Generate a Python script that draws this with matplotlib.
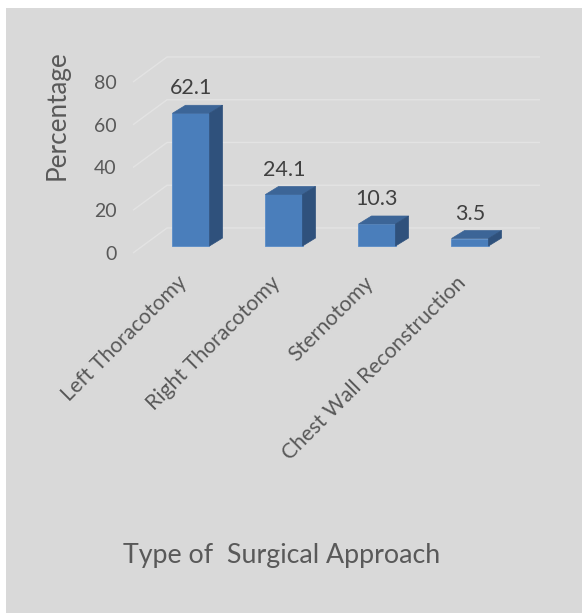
import matplotlib
matplotlib.use("Agg")
import matplotlib.pyplot as plt
from matplotlib.patches import Rectangle, Polygon

plt.rcParams['font.family'] = ['Lato', 'DejaVu Sans']

# ---- data ----
categories = ["Left Thoracotomy", "Right Thoracotomy", "Sternotomy", "Chest Wall Reconstruction"]
values = [62.1, 24.1, 10.3, 3.5]
yticks = [0, 20, 40, 60, 80]
xlabel = "Type of  Surgical Approach"
ylabel = "Percentage"

# ---- style ----
BG = "#d9d9d9"
FRONT = "#4a7ebb"
TOP = "#3c6597"
SIDE = "#2f517c"
GRID = "#e3e3e3"
TXT = "#595959"
LBL = "#404040"

W, H = 583, 613
fig = plt.figure(figsize=(W / 100, H / 100), dpi=100)
fig.patch.set_facecolor("white")
fig.patches.append(Rectangle((6 / W, 0), 576 / W, (H - 8) / H, transform=fig.transFigure,
                             facecolor=BG, edgecolor="none", zorder=-10))

ax = fig.add_axes([133 / W, (H - 253) / H, (506 - 133) / W, (253 - 82) / H])
ax.patch.set_visible(False)
for s in ax.spines.values():
    s.set_visible(False)
xmin, xmax = -0.5215, 3.489
ax.set_xlim(xmin, xmax)
ax.set_ylim(0, 80)

# 3D offsets (data units)
DX, DY = 0.366, 11.7      # full depth of the box (front -> back wall)
bdx, bdy = 0.102, 3.27    # bar front-face plane relative to front plane
tdx, tdy = 0.14, 3.74     # bar depth
w = 0.398

# back wall + side wall gridlines
for v in yticks:
    ax.plot([xmin, xmin + DX, xmax + DX], [v, v + DY, v + DY], color=GRID, lw=1.0,
            clip_on=False, zorder=0, solid_capstyle="butt")

xs = [i + bdx for i in range(len(values))]
bars = ax.bar(xs, values, width=w, bottom=bdy, color=FRONT, edgecolor="#5a8cc8",
              linewidth=0.6, zorder=3, clip_on=False)
for b, v in zip(bars, values):
    x0 = b.get_x()
    x1 = x0 + b.get_width()
    y0 = b.get_y()
    y1 = y0 + b.get_height()
    ax.add_patch(Polygon([(x0, y1), (x0 + tdx, y1 + tdy), (x1 + tdx, y1 + tdy), (x1, y1)],
                         closed=True, facecolor=TOP, edgecolor=TOP, lw=0.5, zorder=3, clip_on=False))
    ax.add_patch(Polygon([(x1, y0), (x1 + tdx, y0 + tdy), (x1 + tdx, y1 + tdy), (x1, y1)],
                         closed=True, facecolor=SIDE, edgecolor=SIDE, lw=0.5, zorder=3, clip_on=False))
    ax.annotate(f"{v}", xy=(x0 + w / 2, y1 + tdy), xytext=(0, 5), textcoords="offset points",
                ha="center", va="bottom", fontsize=15.5, color=LBL, annotation_clip=False)

ax.set_yticks(yticks)
ax.set_yticklabels([str(t) for t in yticks], fontsize=14, color=TXT)
ax.tick_params(axis="y", length=0, pad=12)
ax.set_xticks(xs)
ax.set_xticklabels(categories, rotation=45, ha="right", fontsize=15.3, color=TXT)
ax.tick_params(axis="x", length=0, pad=14)

fig.text(57 / W, 1 - 115 / H, ylabel, rotation=90, ha="center", va="center",
         fontsize=18.8, color=TXT)
fig.text(282 / W, 1 - 555 / H, xlabel, ha="center", va="center", fontsize=19.3, color=TXT)

fig.savefig("out.png", dpi=100, facecolor=fig.get_facecolor())
